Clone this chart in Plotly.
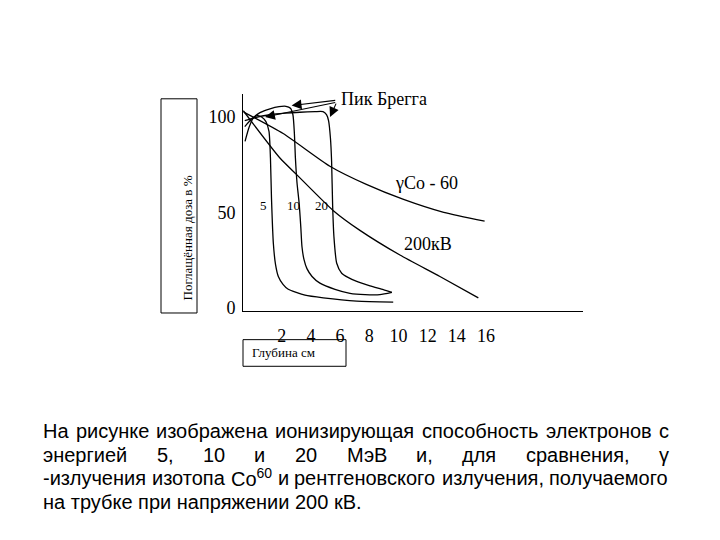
import plotly.graph_objects as go

W, H = 720, 540
OFF = 8  # the page body margin shifts the figure by 8 px

# ---------------- data ----------------
co60_x = [-0.6, 2.1, 5.3, 7.8, 10.3, 13.1, 15.9]
co60_y = [102.4, 91.2, 74.1, 64.6, 56.9, 50.0, 45.4]

kv200_x = [-0.63, 1.88, 3.03, 5.54, 7.36, 10.10, 12.84, 15.47]
kv200_y = [103.1, 78.4, 69.7, 50.9, 40.6, 27.7, 16.5, 5.3]

e5_x = [-0.51, -0.24, 0.03, 0.34, 0.65, 0.92, 1.13, 1.23, 1.30, 1.43, 1.58, 1.77, 2.09, 2.45, 3.60, 4.85, 7.14, 9.64]
e5_y = [87.1, 94.3, 99.0, 100.5, 99.7, 97.4, 92.3, 78.4, 57.7, 33.7, 22.7, 16.5, 12.4, 9.8, 6.7, 5.3, 3.6, 3.1]

e10_x = [-0.53, -0.03, 0.51, 1.2, 1.82, 2.29, 2.60, 2.77, 2.87, 2.94, 3.05, 3.19, 3.31, 3.39, 3.53, 3.73, 4.08, 4.62, 5.65, 6.68, 7.71, 8.73, 9.55]
e10_y = [94.8, 99.0, 102.1, 104.1, 105.2, 105.4, 104.4, 101.0, 91.2, 78.4, 65.5, 55.2, 42.3, 32.0, 25.3, 20.6, 16.5, 13.0, 9.8, 7.7, 7.0, 7.0, 8.2]

e20_x = [-0.53, 0.17, 1.2, 2.23, 3.25, 4.28, 4.83, 5.07, 5.21, 5.34, 5.42, 5.49, 5.58, 5.77, 6.11, 6.54, 7.14, 8.05, 8.96, 9.55]
e20_y = [97.9, 99.5, 101.0, 101.8, 102.3, 102.6, 102.6, 101.0, 97.9, 88.7, 76.6, 53.5, 37.1, 23.4, 18.2, 16.0, 13.9, 11.6, 9.6, 8.2]

x_ticks = [2, 4, 6, 8, 10, 12, 14, 16]
y_ticks = [0, 50, 100]

# curve labels: (text, x, y, size)
curve_labels = [("5", 0.72, 53.8, 13), ("10", 2.80, 53.8, 13), ("20", 4.74, 53.8, 13),
                ("γCo - 60", 11.93, 65.5, 18), ("200кВ", 12.04, 33.7, 18),
                ("Пик Брегга", 9.0, 109.3, 18)]

# Bragg-peak arrows: head (x, y), tail (ax, ay)
arrow_heads = [(2.68, 105.8), (0.86, 99.8), (5.31, 99.8)]
arrow_tails = [(5.77, 108.6), (5.77, 107.6), (5.77, 107.6)]

y_title = "Поглащённая доза в %"
x_title = "Глубина см"

para_lines = [
    ["На", "рисунке", "изображена", "ионизирующая", "способность", "электронов", "с"],
    ["энергией", "5,", "10", "и", "20", "МэВ", "и,", "для", "сравнения,", "γ"],
    ["-излучения", "изотопа", "Co<sup>60</sup>", "и", "рентгеновского", "излучения,", "получаемого"],
    ["на трубке при напряжении 200 кВ."],
]
para_justify = [True, True, True, False]
para_y = [436.5, 460.5, 484, 508]
PARA_LEFT, PARA_RIGHT, PARA_SIZE = 42, 668, 20

SERIF = "Liberation Serif"
SANS = "Liberation Sans"

# approximate Arial / Liberation Sans advance widths (per 1000 em)
ADV = {
    'а': 556, 'б': 573, 'в': 531, 'г': 365, 'д': 583, 'е': 556, 'ё': 556, 'ж': 669, 'з': 458, 'и': 559,
    'й': 559, 'к': 438, 'л': 583, 'м': 688, 'н': 552, 'о': 556, 'п': 542, 'р': 556, 'с': 500, 'т': 458,
    'у': 500, 'ф': 823, 'х': 500, 'ц': 560, 'ч': 518, 'ш': 813, 'щ': 833, 'ъ': 615, 'ы': 729, 'ь': 542,
    'э': 514, 'ю': 750, 'я': 540, 'Н': 722, 'М': 833, 'В': 667, 'С': 722, 'C': 722, 'o': 556,
    ' ': 278, ',': 278, '.': 278, '-': 333, 'γ': 500,
}


def text_w(s, size):
    s2 = s.replace("<sup>", "\x01").replace("</sup>", "\x02")
    total, sup = 0.0, False
    for ch in s2:
        if ch == "\x01":
            sup = True
            continue
        if ch == "\x02":
            sup = False
            continue
        w = ADV.get(ch, 556)
        total += w * (0.7 if sup else 1.0)
    return total / 1000.0 * size


def px(x):
    return (x - OFF) / W


def py(y):
    return 1 - (y - OFF) / H


fig = go.Figure()
line_style = dict(color="black", width=1.3)
for xs, ys in [(co60_x, co60_y), (kv200_x, kv200_y), (e5_x, e5_y), (e10_x, e10_y), (e20_x, e20_y)]:
    fig.add_trace(go.Scatter(x=xs, y=ys, mode="lines",
                             line=dict(shape="spline", smoothing=0.6, **line_style), hoverinfo="skip"))

ann = []
for t, x, y, s in curve_labels:
    ann.append(dict(x=x, y=y, xref="x", yref="y", text=t, showarrow=False,
                    font=dict(family=SERIF, size=s, color="black")))
for (hx, hy), (tx, ty) in zip(arrow_heads, arrow_tails):
    ann.append(dict(x=hx, y=hy, xref="x", yref="y", ax=tx, ay=ty, axref="x", ayref="y",
                    text="", showarrow=True, arrowhead=2, arrowsize=1.8, arrowwidth=1.1,
                    arrowcolor="black"))

# axis titles in boxes
ann.append(dict(x=px(178), y=py(241), xref="paper", yref="paper", text=y_title, textangle=-90,
                showarrow=False, font=dict(family=SERIF, size=13, color="black")))
ann.append(dict(x=px(250), y=py(357.5), xref="paper", yref="paper", text=x_title, xanchor="left",
                showarrow=False, font=dict(family=SERIF, size=13, color="black")))

# justified paragraph
for words, just, yy in zip(para_lines, para_justify, para_y):
    widths = [text_w(w, PARA_SIZE) for w in words]
    if just and len(words) > 1:
        gap = (PARA_RIGHT - PARA_LEFT - sum(widths)) / (len(words) - 1)
    else:
        gap = 0
    xx = PARA_LEFT
    for w, ww in zip(words, widths):
        ann.append(dict(x=px(xx), y=py(yy), xref="paper", yref="paper", text=w,
                        xanchor="left", yanchor="middle", showarrow=False, xshift=-1,
                        font=dict(family=SANS, size=PARA_SIZE, color="black")))
        xx += ww + gap

shapes = [
    dict(type="rect", xref="paper", yref="paper", x0=px(161), x1=px(197), y0=py(317), y1=py(100),
         line=dict(color="black", width=1)),
    dict(type="rect", xref="paper", yref="paper", x0=px(243), x1=px(346), y0=py(371), y1=py(344),
         line=dict(color="black", width=1)),
]

fig.update_layout(
    width=W, height=H, margin=dict(l=0, r=0, t=0, b=0),
    paper_bgcolor="white", plot_bgcolor="white", showlegend=False,
    annotations=ann, shapes=shapes,
    xaxis=dict(domain=[px(243), px(583)], range=[-0.65, 22.64], showline=True, linecolor="black",
               linewidth=1, showgrid=False, zeroline=False, tickvals=x_ticks, ticks="outside",
               ticklen=8, tickcolor="rgba(0,0,0,0)", tickfont=dict(family=SERIF, size=18, color="black")),
    yaxis=dict(domain=[py(315), py(95)], range=[-1.55, 111.9], showline=True, linecolor="black",
               linewidth=1, showgrid=False, zeroline=False, tickvals=y_ticks, ticks="outside",
               ticklen=3, tickcolor="rgba(0,0,0,0)", tickfont=dict(family=SERIF, size=18, color="black")),
)

fig.write_html("out.html")
